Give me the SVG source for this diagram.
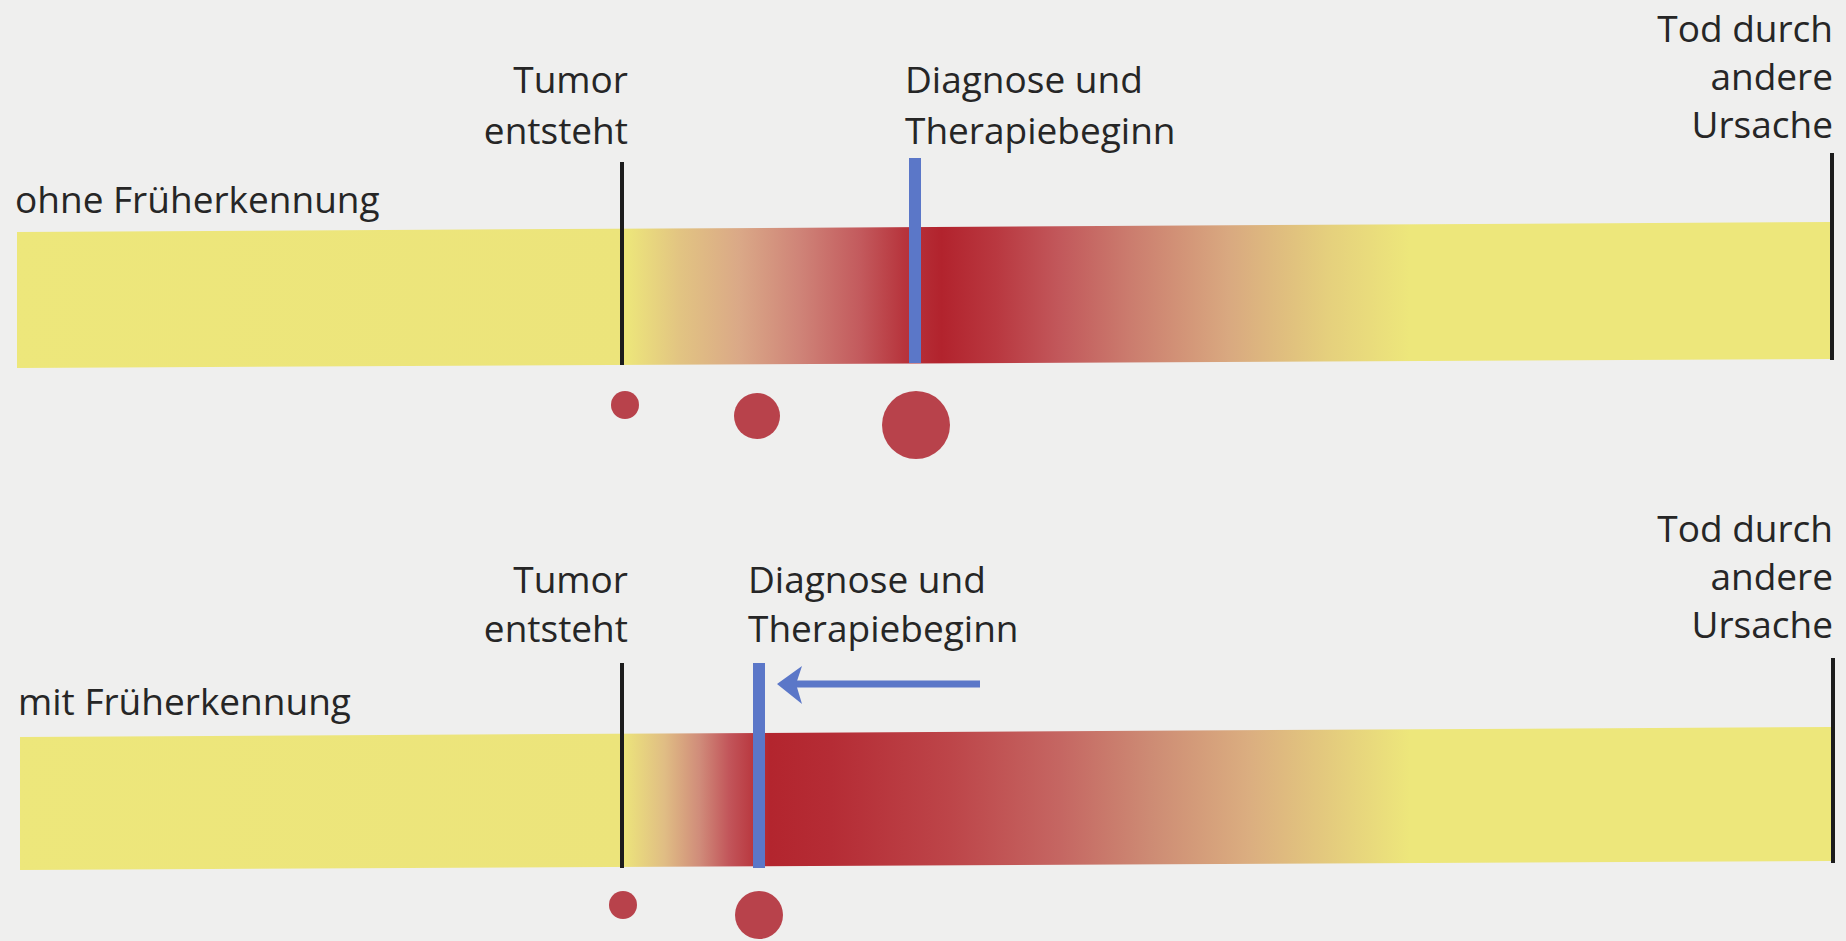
<svg xmlns="http://www.w3.org/2000/svg" width="1846" height="941" viewBox="0 0 1846 941">
<style>
  .lbl { font-family: "Open Sans", "Noto Sans", "Liberation Sans", sans-serif; font-size: 37px; fill: #262626; }
  .end { text-anchor: end; }
  .tick { stroke: #1c1c1c; stroke-width: 4; fill: none; }
  .diag { stroke: #5b77c8; stroke-width: 12; fill: none; }
  .tumor { fill: #b8424b; }
</style>
<defs>
  <linearGradient id="gTop" gradientUnits="userSpaceOnUse" x1="0" y1="0" x2="1846" y2="0">
    <stop offset="0" stop-color="#ede77b"/>
    <stop offset="0.341" stop-color="#ece47b"/>
    <stop offset="0.368" stop-color="#e2c482"/>
    <stop offset="0.401" stop-color="#daa887"/>
    <stop offset="0.433" stop-color="#cf8478"/>
    <stop offset="0.466" stop-color="#c35a5d"/>
    <stop offset="0.490" stop-color="#b7343c"/>
    <stop offset="0.510" stop-color="#b2232d"/>
    <stop offset="0.540" stop-color="#b93840"/>
    <stop offset="0.574" stop-color="#c2585b"/>
    <stop offset="0.612" stop-color="#cb7c6e"/>
    <stop offset="0.666" stop-color="#d9a980"/>
    <stop offset="0.720" stop-color="#e5d07d"/>
    <stop offset="0.764" stop-color="#ede77b"/>
    <stop offset="1" stop-color="#ede77b"/>
  </linearGradient>
  <linearGradient id="gBot" gradientUnits="userSpaceOnUse" x1="0" y1="0" x2="1846" y2="0">
    <stop offset="0" stop-color="#ede77b"/>
    <stop offset="0.338" stop-color="#ece47b"/>
    <stop offset="0.360" stop-color="#e0bd84"/>
    <stop offset="0.379" stop-color="#d08c7a"/>
    <stop offset="0.395" stop-color="#c2555a"/>
    <stop offset="0.417" stop-color="#b3252e"/>
    <stop offset="0.450" stop-color="#b52c35"/>
    <stop offset="0.515" stop-color="#bd4549"/>
    <stop offset="0.574" stop-color="#c56662"/>
    <stop offset="0.623" stop-color="#cd8b74"/>
    <stop offset="0.677" stop-color="#dbae80"/>
    <stop offset="0.731" stop-color="#e6d27d"/>
    <stop offset="0.764" stop-color="#ede77b"/>
    <stop offset="1" stop-color="#ede77b"/>
  </linearGradient>
</defs>
<rect x="0" y="0" width="1846" height="941" fill="#efefee"/>

<g id="row-ohne">
  <polygon id="bar-ohne" points="17,232 1831,222 1831,359 17,368" fill="url(#gTop)"/>
  <text class="lbl" x="15" y="213">ohne Früherkennung</text>
</g>
<g id="row-mit">
  <polygon id="bar-mit" points="20,737 1831,727 1831,861 20,870" fill="url(#gBot)"/>
  <text class="lbl" x="18" y="715">mit Früherkennung</text>
</g>

<g id="node-tumor-top">
  <text class="lbl end" x="628" y="93">Tumor</text>
  <text class="lbl end" x="628" y="144">entsteht</text>
  <line class="tick" x1="622" y1="162" x2="622" y2="365"/>
</g>
<g id="node-diag-top">
  <text class="lbl" x="905" y="93">Diagnose und</text>
  <text class="lbl" x="905" y="144">Therapiebeginn</text>
  <line class="diag" x1="915" y1="158" x2="915" y2="363"/>
</g>
<g id="node-tod-top">
  <text class="lbl end" x="1833" y="42">Tod durch</text>
  <text class="lbl end" x="1833" y="90">andere</text>
  <text class="lbl end" x="1833" y="138">Ursache</text>
  <line class="tick" x1="1832" y1="153" x2="1832" y2="360"/>
</g>
<g id="tumors-top">
  <circle class="tumor" cx="625" cy="405" r="14"/>
  <circle class="tumor" cx="757" cy="416" r="23"/>
  <circle class="tumor" cx="916" cy="425" r="34"/>
</g>

<g id="node-tumor-bot">
  <text class="lbl end" x="628" y="593">Tumor</text>
  <text class="lbl end" x="628" y="642">entsteht</text>
  <line class="tick" x1="622" y1="663" x2="622" y2="868"/>
</g>
<g id="node-diag-bot">
  <text class="lbl" x="748" y="593">Diagnose und</text>
  <text class="lbl" x="748" y="642">Therapiebeginn</text>
  <line class="diag" x1="759" y1="663" x2="759" y2="868"/>
</g>
<g id="node-tod-bot">
  <text class="lbl end" x="1833" y="542">Tod durch</text>
  <text class="lbl end" x="1833" y="590">andere</text>
  <text class="lbl end" x="1833" y="638">Ursache</text>
  <line class="tick" x1="1833" y1="658" x2="1833" y2="863"/>
</g>
<g id="tumors-bot">
  <circle class="tumor" cx="623" cy="905" r="14"/>
  <circle class="tumor" cx="759" cy="915" r="24"/>
</g>

<g id="connectors">
  <line x1="980" y1="684" x2="794" y2="684" stroke="#5b77c8" stroke-width="7"/>
  <polygon points="777,684 802,666 796,684 802,704" fill="#5b77c8"/>
</g>
</svg>
